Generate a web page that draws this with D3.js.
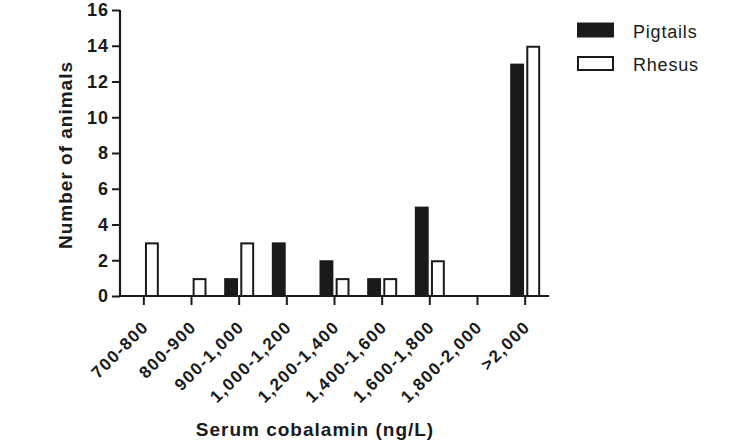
<!DOCTYPE html>
<html><head><meta charset="utf-8">
<script src="https://cdn.jsdelivr.net/npm/d3@7"></script>
<style>body{margin:0;background:#fff}svg{display:block}</style>
</head><body><svg id="c" width="755" height="440"></svg>
<script>
const categories = ["700-800","800-900","900-1,000","1,000-1,200","1,200-1,400","1,400-1,600","1,600-1,800","1,800-2,000",">2,000"];
const series = ["Pigtails","Rhesus"];
const pigtails = [0,0,1,3,2,1,5,0,13];
const rhesus = [3,1,3,0,1,1,2,0,14];
const yTicks = [0,2,4,6,8,10,12,14,16];
const values = {Pigtails: pigtails, Rhesus: rhesus};

const svg = d3.select("#c");
const x0 = 120, x1 = 549, yTop = 10, yBot = 296;
const font = "Liberation Sans, Arial, sans-serif";
const ink = "#1a1a1a";

const x = d3.scaleBand().domain(categories).range([x0, x1]).padding(0);
const y = d3.scaleLinear().domain([0,16]).range([yBot, yTop]);
const xs = d3.scaleBand().domain(series).range([-15, 15]).paddingInner(0.14);

const g = svg.append("g");
series.forEach((s, si) => {
  g.selectAll(null).data(categories.map((c,i)=>({c, v: values[s][i]})).filter(d=>d.v>0))
    .enter().append("rect")
    .attr("x", d => x(d.c) + x.bandwidth()/2 + xs(s) + 1)
    .attr("y", d => y(d.v) + 1)
    .attr("width", xs.bandwidth() - 2)
    .attr("height", d => y(0) - y(d.v) - 1)
    .attr("fill", si === 0 ? ink : "#fff")
    .attr("stroke", ink).attr("stroke-width", 2);
});

// y axis
const ya = svg.append("g").attr("transform", `translate(${x0},0)`)
  .call(d3.axisLeft(y).tickValues(yTicks).tickSize(8).tickPadding(3).tickFormat(d3.format("d")));
ya.select(".domain").attr("stroke", ink).attr("stroke-width", 2.2).attr("d", `M0,${yBot}V${yTop}`);
ya.selectAll(".tick line").attr("stroke", ink).attr("stroke-width", 2);
ya.selectAll("text").attr("font-family", font).attr("font-weight", "bold").attr("font-size", 18)
  .attr("letter-spacing", 1).attr("fill", ink);

// x axis
const xa = svg.append("g").attr("transform", `translate(0,${yBot})`)
  .call(d3.axisBottom(x).tickSize(9).tickSizeOuter(0));
xa.select(".domain").attr("stroke", ink).attr("stroke-width", 2.2).attr("d", `M${x0},0H${x1}`);
xa.selectAll(".tick line").attr("stroke", ink).attr("stroke-width", 2);
xa.selectAll("text").attr("font-family", font).attr("font-weight", "bold").attr("font-size", 17)
  .attr("letter-spacing", 1.5).attr("fill", ink)
  .attr("text-anchor", "end").attr("y", 0).attr("dy", 0)
  .attr("transform", "translate(6,32) rotate(-45)");

svg.append("text").attr("x", 315).attr("y", 436).attr("text-anchor", "middle")
  .attr("font-family", font).attr("font-weight", "bold").attr("font-size", 19).attr("letter-spacing", 1)
  .attr("fill", ink).text("Serum cobalamin (ng/L)");
svg.append("text").attr("transform", "translate(72,155) rotate(-90)").attr("text-anchor", "middle")
  .attr("font-family", font).attr("font-weight", "bold").attr("font-size", 19).attr("letter-spacing", 1)
  .attr("fill", ink).text("Number of animals");

// legend
const lg = svg.append("g");
series.forEach((s, i) => {
  const yy = 23.5 + i * 33.5;
  lg.append("rect").attr("x", 578).attr("y", yy).attr("width", 35).attr("height", 13)
    .attr("fill", i === 0 ? ink : "#fff").attr("stroke", ink).attr("stroke-width", 2);
  lg.append("text").attr("x", 633).attr("y", yy + 14).attr("font-family", font).attr("font-size", 18)
    .attr("letter-spacing", 0.8).attr("fill", ink).text(s);
});
</script></body></html>
